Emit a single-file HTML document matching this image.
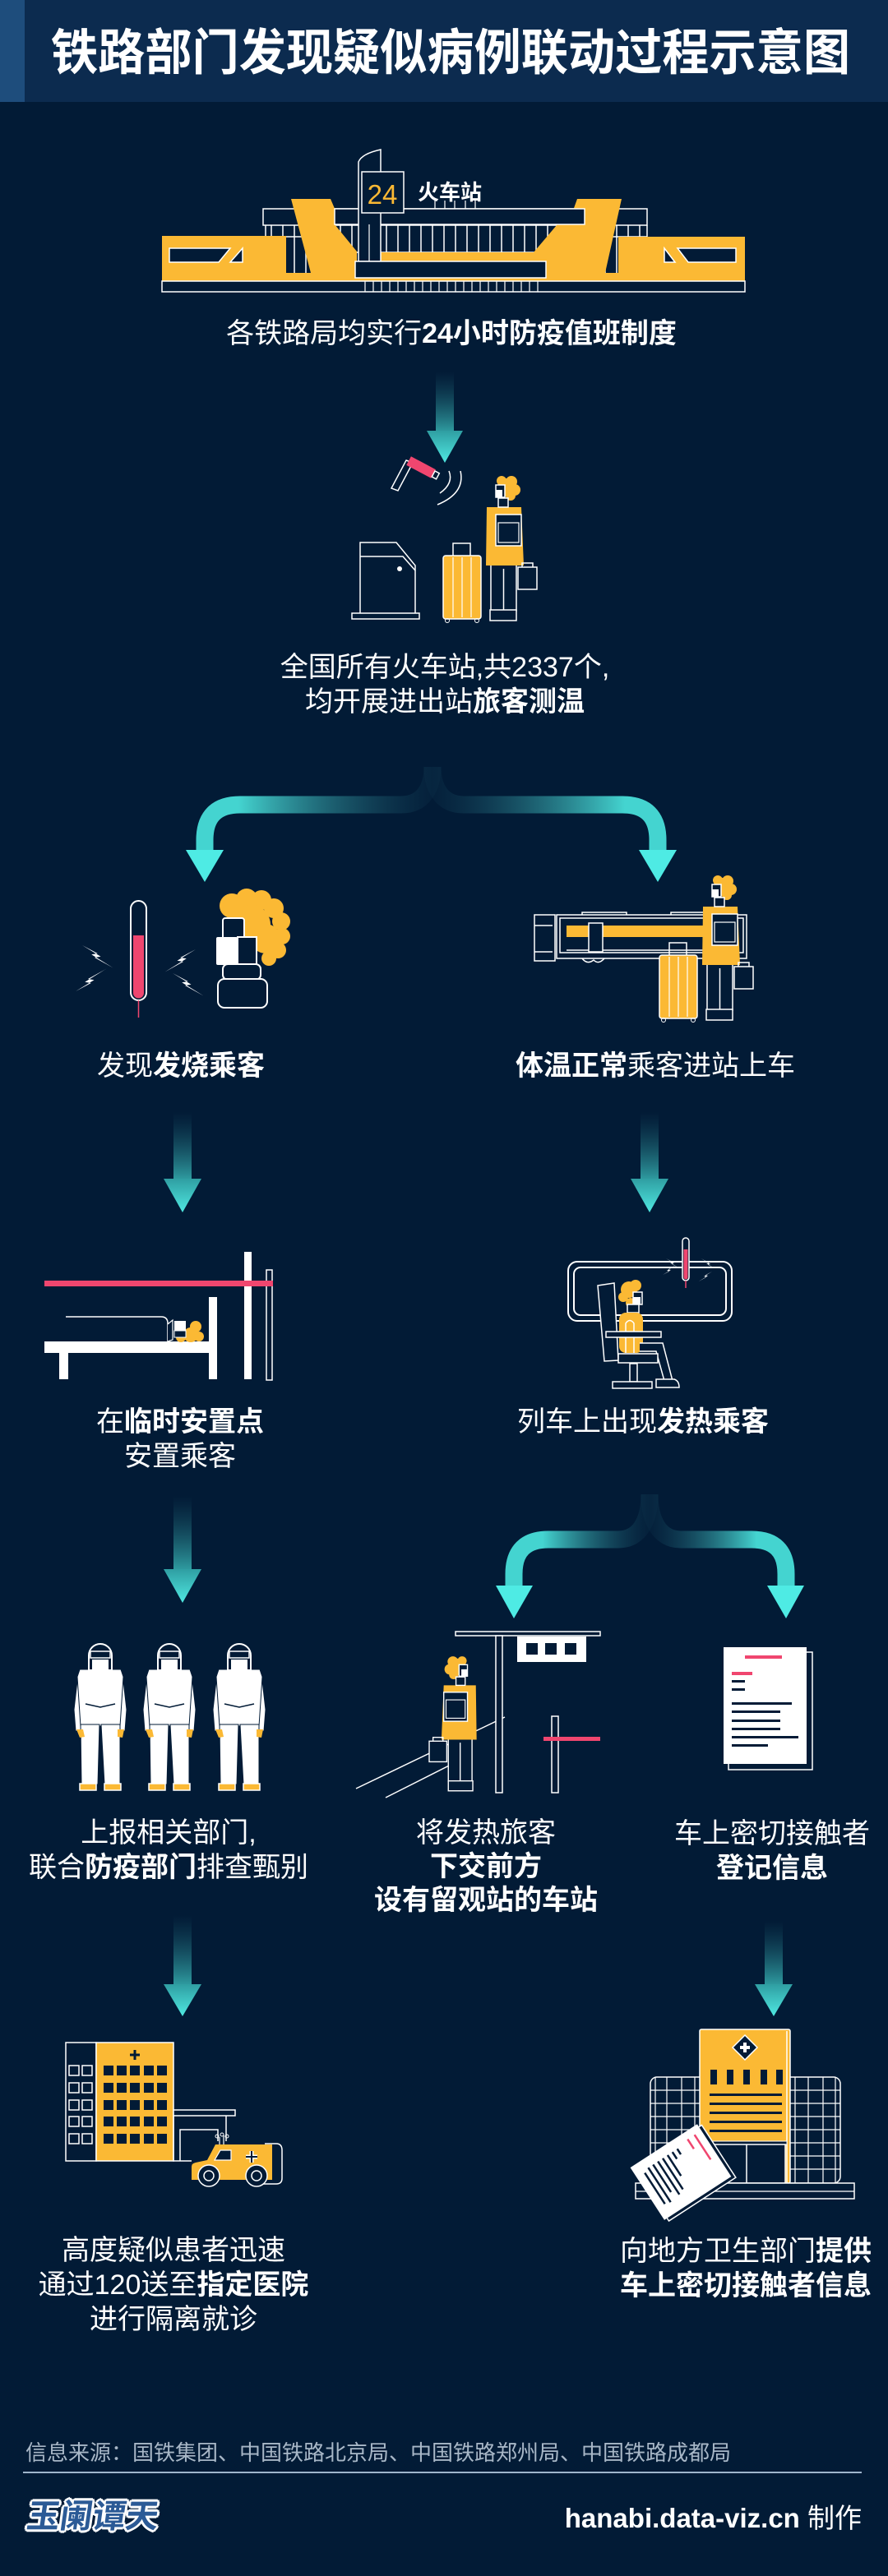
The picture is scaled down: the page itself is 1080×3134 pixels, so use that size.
<!DOCTYPE html>
<html><head><meta charset="utf-8">
<style>
html,body{margin:0;padding:0;background:#021b36;}
#wrap{position:relative;width:1080px;height:3134px;overflow:hidden;background:#021b36;font-family:"Liberation Sans","Noto Sans CJK SC",sans-serif;color:#fff;}
.t{position:absolute;width:600px;text-align:center;font-size:34px;line-height:42px;white-space:nowrap;font-weight:400;}
.t b{font-weight:700;}
svg{position:absolute;left:0;top:0;}
</style></head><body><div id="wrap">
<svg width="1080" height="3134" viewBox="0 0 1080 3134">
<defs>
<linearGradient id="gv" x1="0" y1="0" x2="0" y2="1"><stop offset="0" stop-color="#1b5a6c" stop-opacity="0"/><stop offset="1" stop-color="#2f9ea2"/></linearGradient>
<linearGradient id="gh" x1="0" y1="0" x2="0" y2="1"><stop offset="0" stop-color="#2f9ea2"/><stop offset="1" stop-color="#4fe8e1"/></linearGradient>
<linearGradient id="b1l" gradientUnits="userSpaceOnUse" x1="526" y1="0" x2="290" y2="0"><stop offset="0" stop-color="#1b4f66" stop-opacity="0.1"/><stop offset="1" stop-color="#44d4d0"/></linearGradient>
<linearGradient id="b1r" gradientUnits="userSpaceOnUse" x1="526" y1="0" x2="760" y2="0"><stop offset="0" stop-color="#1b4f66" stop-opacity="0.1"/><stop offset="1" stop-color="#44d4d0"/></linearGradient>
<linearGradient id="b2l" gradientUnits="userSpaceOnUse" x1="790" y1="0" x2="660" y2="0"><stop offset="0" stop-color="#1b4f66" stop-opacity="0.1"/><stop offset="1" stop-color="#44d4d0"/></linearGradient>
<linearGradient id="b2r" gradientUnits="userSpaceOnUse" x1="790" y1="0" x2="920" y2="0"><stop offset="0" stop-color="#1b4f66" stop-opacity="0.1"/><stop offset="1" stop-color="#44d4d0"/></linearGradient>
<path id="bolt" d="M0 0 L18 11 L12 12 L30 22 L9 9 L15 8 Z"/>
</defs>

<!-- title bar -->
<rect x="0" y="0" width="1080" height="124" fill="#0c2b4f"/>
<rect x="0" y="0" width="30" height="124" fill="#1e4d7c"/>
<text x="62" y="85" font-size="60" font-weight="700" fill="#fff" textLength="972" lengthAdjust="spacingAndGlyphs" font-family="Liberation Sans, Noto Sans CJK SC, sans-serif">铁路部门发现疑似病例联动过程示意图</text>

<!-- ================= STATION ================= -->
<g>
<path stroke="#fff" stroke-width="1.5" fill="none" d="M330 274V333M344 274V333M358 274V333M372 274V333M386 274V307M400 274V307M414 274V307M428 274V307M442 274V307M456 274V307M470 274V307M484 274V307M498 274V307M512 274V307M526 274V307M540 274V307M554 274V307M568 274V307M582 274V307M596 274V307M610 274V307M624 274V307M638 274V307M652 274V307M666 274V307M680 274V307M694 274V307M708 274V307M722 274V333M736 274V333M750 274V333M764 274V333M778 274V333M320 288H378M722 288H787M429 307H677M787 274V288M323 274V288"/>
<rect x="320" y="254" width="467" height="20" fill="#021b36" stroke="#fff" stroke-width="1.5"/>
<g fill="#fbb934">
<rect x="197" y="287" width="151" height="55"/>
<rect x="752" y="288" width="154" height="54"/>
<rect x="197" y="332" width="709" height="10"/>
<polygon points="354,242 402,242 408,256 407,273 434,306 434,332 378,332"/>
<polygon points="702,242 756,242 736,332 664,332 664,318 649,307 677,274 697,256"/>
<rect x="463" y="307" width="204" height="11"/>
</g>
<rect x="407" y="254" width="304" height="19" fill="#021b36" stroke="#fff" stroke-width="1.5"/>
<path d="M436 318 V197 Q440 187 463 182 V318 Z" fill="#021b36" stroke="#fff" stroke-width="1.5"/>
<path d="M449 273V318" stroke="#fff" stroke-width="1.2"/>
<rect x="440" y="209" width="51" height="50" fill="#021b36" stroke="#fff" stroke-width="1.5"/>
<text x="465" y="248" text-anchor="middle" font-size="33" fill="#fbb934" font-family="Liberation Sans, sans-serif">24</text>
<text x="508" y="243" font-size="26" font-weight="700" fill="#fff" font-family="Liberation Sans, Noto Sans CJK SC, sans-serif">火车站</text>
<path stroke="#fff" stroke-width="1.2" d="M529 244V254M541 244V254M553 244V254M566 244V254M578 244V254"/>
<rect x="432" y="318" width="232" height="20" fill="#021b36" stroke="#fff" stroke-width="1.5"/>
<rect x="197" y="342" width="709" height="13" fill="#021b36" stroke="#fff" stroke-width="1.5"/>
<path stroke="#fff" stroke-width="1.2" d="M444 342V355M454 342V355M464 342V355M474 342V355M484 342V355M494 342V355M504 342V355M514 342V355M524 342V355M534 342V355M544 342V355M554 342V355M564 342V355M574 342V355M584 342V355M594 342V355M604 342V355M614 342V355M624 342V355M634 342V355M644 342V355M654 342V355"/>
<g fill="#021b36" stroke="#fff" stroke-width="1.5">
<polygon points="206,302 280,302 266,319 206,319"/>
<polygon points="280,319 295,302 295,319"/>
<polygon points="824,302 895,302 895,319 837,319"/>
<polygon points="808,302 808,319 821,319"/>
</g>
</g>

<!-- arrow 1 -->
<rect x="530" y="452" width="22" height="74" fill="url(#gv)"/>
<polygon points="519,524 563,524 541,563" fill="url(#gh)"/>

<!-- ================= MEASUREMENT ================= -->
<g>
<polygon points="494,560 502,563 484,597 476,594" fill="#021b36" stroke="#fff" stroke-width="1.5"/>
<g transform="translate(513 569) rotate(28)">
<rect x="-18" y="-6" width="34" height="12" fill="#f0466f"/>
<rect x="16" y="-4" width="6" height="8" fill="#021b36" stroke="#fff" stroke-width="1.5"/>
</g>
<path d="M546 573 Q552 588 535 600" fill="none" stroke="#fff" stroke-width="1.5"/>
<path d="M560 573 Q566 600 532 614" fill="none" stroke="#fff" stroke-width="1.5"/>
<path d="M438 747 V660 H482 L505 688 V747" fill="#021b36" stroke="#fff" stroke-width="1.5"/>
<path d="M438 677 H490 L505 694" fill="none" stroke="#fff" stroke-width="1.5"/>
<circle cx="486" cy="692" r="3" fill="#fff"/>
<rect x="428" y="746" width="82" height="7" fill="#021b36" stroke="#fff" stroke-width="1.5"/>
</g>
<g id="sc">
<rect x="539" y="676" width="46" height="77" rx="3" fill="#fbb934" stroke="#fff" stroke-width="1.5"/>
<path d="M551 678V751M562 678V751M573 678V751" stroke="#fff" stroke-width="1.2"/>
<path d="M551 676V661H572V676" fill="none" stroke="#fff" stroke-width="1.5"/>
<circle cx="544" cy="755" r="2.5" fill="none" stroke="#fff"/><circle cx="580" cy="755" r="2.5" fill="none" stroke="#fff"/>
</g>
<g id="pp">
<rect x="597" y="686" width="31" height="57" fill="#021b36" stroke="#fff" stroke-width="1.5"/>
<path d="M612.5 692V743" stroke="#fff" stroke-width="1.5"/>
<rect x="596" y="742" width="32" height="13" fill="#021b36" stroke="#fff" stroke-width="1.5"/>
<path d="M592 617H634L637 688H591Z" fill="#fbb934"/>
<rect x="603" y="626" width="31" height="38" fill="#021b36" stroke="#fff" stroke-width="1.5"/>
<rect x="606" y="636" width="25" height="24" fill="none" stroke="#fff" stroke-width="1.2"/>
<rect x="630" y="690" width="23" height="27" fill="#021b36" stroke="#fff" stroke-width="1.5"/>
<path d="M635 690V685H648V690" fill="none" stroke="#fff" stroke-width="1.5"/>
<g fill="#fbb934"><circle cx="616" cy="593" r="11"/><circle cx="622" cy="586" r="7"/><circle cx="626" cy="596" r="7"/><circle cx="610" cy="585" r="6"/><circle cx="621" cy="603" r="6"/></g>
<rect x="606" y="606" width="12" height="11" fill="#021b36" stroke="#fff" stroke-width="1.5"/>
<rect x="603" y="590" width="11" height="15" fill="#021b36" stroke="#fff" stroke-width="1.5"/>
<rect x="603" y="596" width="8" height="9" fill="#fff"/>
</g>

<!-- branch 1 -->
<path d="M526 933 C526 958 515 979 488 979 L292 979 Q249 979 249 1022 L249 1036" fill="none" stroke="url(#b1l)" stroke-width="21"/>
<path d="M526 933 C526 958 537 979 564 979 L757 979 Q800 979 800 1022 L800 1036" fill="none" stroke="url(#b1r)" stroke-width="21"/>
<polygon points="226,1034 272,1034 249,1073" fill="#4eebe4"/>
<polygon points="777,1034 823,1034 800,1073" fill="#4eebe4"/>

<!-- ================= FEVER (left) ================= -->
<g>
<rect x="159" y="1096" width="19" height="121" rx="9.5" fill="#021b36" stroke="#fff" stroke-width="2"/>
<path d="M162 1138 H175 V1208 A6.5 6.5 0 0 1 162 1208 Z" fill="#f0466f"/>
<path d="M168.5 1217 V1238" stroke="#f0466f" stroke-width="1.5"/>
<g fill="#fff">
<use href="#bolt" transform="translate(100 1150) scale(1.25)"/>
<use href="#bolt" transform="matrix(1.25 0 0 -1.25 92 1206)"/>
<use href="#bolt" transform="matrix(-1.25 0 0 1.25 238 1155) scale(1 1)"/>
<use href="#bolt" transform="translate(210 1184) scale(1.25)"/>
</g>
<g fill="#fbb934">
<circle cx="282" cy="1102" r="15"/><circle cx="300" cy="1094" r="13"/><circle cx="318" cy="1095" r="12"/><circle cx="333" cy="1105" r="12"/><circle cx="342" cy="1121" r="11"/><circle cx="343" cy="1139" r="10"/><circle cx="338" cy="1156" r="10"/><circle cx="327" cy="1166" r="9"/><circle cx="305" cy="1125" r="24"/><circle cx="323" cy="1142" r="18"/>
</g>
<rect x="271" y="1117" width="26" height="26" rx="3" fill="#021b36" stroke="#fff" stroke-width="2"/>
<rect x="289" y="1140" width="23" height="33" fill="#021b36" stroke="#fff" stroke-width="2"/>
<rect x="263" y="1140" width="26" height="34" rx="2" fill="#fff"/>
<rect x="271" y="1173" width="46" height="19" rx="6" fill="#021b36" stroke="#fff" stroke-width="2"/>
<rect x="265" y="1191" width="60" height="35" rx="8" fill="#021b36" stroke="#fff" stroke-width="2"/>
</g>

<!-- ================= TRAIN (right) ================= -->
<g fill="none" stroke="#fff" stroke-width="1.5">
<rect x="650" y="1113" width="25" height="56"/>
<path d="M650 1126 H672 M650 1158 H672"/>
<rect x="677" y="1113" width="231" height="53"/>
<rect x="681" y="1117" width="223" height="42"/>
<path d="M708 1113 V1110 H762 V1113 M816 1113 V1110 H868 V1113"/>
<path d="M689 1156 H860"/>
<path d="M708 1166 Q714 1174 722 1168 Q728 1174 735 1166"/>
</g>
<rect x="689" y="1126" width="171" height="14" fill="#fbb934"/>
<rect x="716" y="1123" width="17" height="35" fill="#021b36" stroke="#fff" stroke-width="1.5"/>
<use href="#sc" transform="translate(263 486)"/>
<use href="#pp" transform="translate(263 486)"/>

<!-- vertical arrows 2,3 -->
<rect x="211" y="1353" width="22" height="83" fill="url(#gv)"/>
<polygon points="199,1434 245,1434 222,1475" fill="url(#gh)"/>
<rect x="779" y="1353" width="22" height="83" fill="url(#gv)"/>
<polygon points="767,1434 813,1434 790,1475" fill="url(#gh)"/>

<!-- ================= BED ================= -->
<g>
<rect x="297" y="1523" width="9" height="155" fill="#fff"/>
<rect x="324" y="1545" width="7" height="134" fill="#021b36" stroke="#fff" stroke-width="1.5"/>
<rect x="54" y="1558" width="278" height="7" fill="#f0466f"/>
<rect x="54" y="1632" width="210" height="14" fill="#fff"/>
<rect x="72" y="1646" width="11" height="32" fill="#fff"/>
<rect x="254" y="1578" width="10" height="100" fill="#fff"/>
<path d="M80 1602 H196 Q204 1602 204 1610 V1632" fill="none" stroke="#fff" stroke-width="1.5"/>
<path d="M204 1611 L210 1606 V1630 L204 1632" fill="#021b36" stroke="#fff" stroke-width="1.2"/>
<g fill="#fbb934"><circle cx="238" cy="1614" r="7"/><circle cx="232" cy="1624" r="9"/><circle cx="242" cy="1626" r="6"/><circle cx="220" cy="1627" r="6"/></g>
<rect x="212" y="1607" width="14" height="12" fill="#fff"/>
<rect x="212" y="1619" width="14" height="8" fill="#021b36" stroke="#fff" stroke-width="1"/>
</g>

<!-- ================= SEAT (right) ================= -->
<g>
<rect x="691" y="1535" width="199" height="72" rx="11" fill="none" stroke="#fff" stroke-width="2"/>
<rect x="698" y="1542" width="185" height="58" rx="8" fill="none" stroke="#fff" stroke-width="2"/>
<rect x="830" y="1506" width="8" height="52" rx="4" fill="#021b36" stroke="#fff" stroke-width="1.5"/>
<path d="M831.5 1520 H836.5 V1554 A2.5 2.5 0 0 1 831.5 1554 Z" fill="#f0466f"/>
<path d="M834 1558 V1567" stroke="#f0466f" stroke-width="1.5"/>
<g fill="#fff">
<use href="#bolt" transform="matrix(0.55 0 0 0.55 810 1531)"/>
<use href="#bolt" transform="matrix(0.55 0 0 -0.55 806 1551)"/>
<use href="#bolt" transform="matrix(-0.55 0 0 -0.55 869 1543)"/>
<use href="#bolt" transform="matrix(-0.55 0 0 0.55 866 1547)"/>
</g>
<polygon points="727,1564 747,1561 752,1655 735,1656" fill="#021b36" stroke="#fff" stroke-width="1.5"/>
<g fill="#fbb934"><circle cx="765" cy="1569" r="10"/><circle cx="773" cy="1564" r="7"/><circle cx="758" cy="1578" r="6"/><circle cx="767" cy="1585" r="6"/></g>
<rect x="770" y="1572" width="11" height="15" fill="#021b36" stroke="#fff" stroke-width="1.5"/>
<rect x="770" y="1578" width="9" height="9" fill="#fff"/>
<rect x="763" y="1587" width="14" height="10" fill="#021b36" stroke="#fff" stroke-width="1.5"/>
<rect x="753" y="1597" width="29" height="49" rx="8" fill="#fbb934"/>
<path d="M761 1646 V1610 Q766 1603 771 1610 V1646" fill="none" stroke="#fff" stroke-width="1.5"/>
<rect x="737" y="1620" width="67" height="7" fill="#021b36" stroke="#fff" stroke-width="1.5"/>
<path d="M778 1634 H806 L818 1680 H808 L798 1644 H778" fill="#021b36" stroke="#fff" stroke-width="1.5"/>
<rect x="752" y="1647" width="48" height="11" fill="#021b36" stroke="#fff" stroke-width="1.5"/>
<rect x="766" y="1659" width="9" height="22" fill="#021b36" stroke="#fff" stroke-width="1.5"/>
<rect x="745" y="1681" width="48" height="8" fill="#021b36" stroke="#fff" stroke-width="1.5"/>
<path d="M798 1678 H820 Q826 1680 826 1688 H798 Z" fill="#021b36" stroke="#fff" stroke-width="1.5"/>
</g>

<!-- arrow 4 -->
<rect x="211" y="1820" width="22" height="91" fill="url(#gv)"/>
<polygon points="199,1909 245,1909 222,1950" fill="url(#gh)"/>

<!-- branch 2 -->
<path d="M790 1818 C790 1848 779 1873 752 1873 L667 1873 Q625 1873 625 1915 L625 1931" fill="none" stroke="url(#b2l)" stroke-width="21"/>
<path d="M790 1818 C790 1848 801 1873 828 1873 L914 1873 Q956 1873 956 1915 L956 1931" fill="none" stroke="url(#b2r)" stroke-width="21"/>
<polygon points="603,1929 648,1929 625,1969" fill="#4eebe4"/>
<polygon points="933,1929 978,1929 956,1969" fill="#4eebe4"/>

<!-- ================= DOCTORS ================= -->
<g id="doc">
<path d="M95 2036 L90 2080 L92 2106 L101 2106 L102 2050 Z" fill="#fff" stroke="#021b36" stroke-width="1"/>
<path d="M149 2036 L154 2080 L152 2106 L143 2106 L142 2050 Z" fill="#fff" stroke="#021b36" stroke-width="1"/>
<path d="M97 2031 H147 L150 2040 L146 2100 H98 L94 2040 Z" fill="#fff" stroke="#021b36" stroke-width="1"/>
<path d="M98 2098 H121 L119 2171 H99 Z" fill="#fff" stroke="#021b36" stroke-width="1"/>
<path d="M123 2098 H146 L146 2171 H127 Z" fill="#fff" stroke="#021b36" stroke-width="1"/>
<path d="M104 2073 L122 2077 L140 2073" stroke="#021b36" stroke-width="1.5" fill="none"/>
<path d="M93 2104 L101 2104 L103 2113 L97 2114 Z" fill="#fbb934"/>
<path d="M143 2104 L151 2104 L149 2114 L143 2113 Z" fill="#fbb934"/>
<rect x="97" y="2170" width="20" height="8" fill="#fbb934" stroke="#fff" stroke-width="1.5"/>
<rect x="127" y="2170" width="20" height="8" fill="#fbb934" stroke="#fff" stroke-width="1.5"/>
<path d="M108 2032 V2014 A14 14 0 0 1 136 2014 V2032 Z" fill="#021b36" stroke="#fff" stroke-width="2"/>
<rect x="110" y="2009" width="24" height="8" fill="#021b36" stroke="#fff" stroke-width="1.5"/>
<rect x="112" y="2019" width="20" height="12" fill="#fff"/>
</g>
<use href="#doc" transform="translate(84 0)"/>
<use href="#doc" transform="translate(169 0)"/>

<!-- ================= PLATFORM ================= -->
<g>
<path d="M433 2176 L614 2089 M469 2187 L566 2138" stroke="#fff" stroke-width="1.5"/>
<rect x="554" y="1985" width="176" height="5" fill="#021b36" stroke="#fff" stroke-width="1.5"/>
<rect x="603" y="1990" width="8" height="191" fill="#021b36" stroke="#fff" stroke-width="1.5"/>
<rect x="629" y="1991" width="84" height="31" fill="#fff"/>
<rect x="640" y="1999" width="14" height="14" fill="#021b36"/>
<rect x="663" y="1999" width="14" height="14" fill="#021b36"/>
<rect x="687" y="1999" width="14" height="14" fill="#021b36"/>
<rect x="671" y="2088" width="8" height="93" fill="#021b36" stroke="#fff" stroke-width="1.5"/>
<rect x="661" y="2113" width="69" height="5" fill="#f0466f"/>
<use href="#pp" transform="matrix(-0.93 0 0 0.93 1129.3 1476.6)"/>
</g>

<!-- ================= DOCUMENT ================= -->
<g>
<rect x="886" y="2010" width="102" height="143" fill="#021b36" stroke="#fff" stroke-width="1.5"/>
<rect x="880" y="2004" width="101" height="142" fill="#fff"/>
<rect x="906" y="2014" width="45" height="4" fill="#f0466f"/>
<rect x="890" y="2034" width="25" height="4" fill="#f0466f"/>
<g fill="#021b36">
<rect x="890" y="2044" width="16" height="3"/><rect x="890" y="2054" width="16" height="3"/>
<rect x="890" y="2071" width="73" height="3"/><rect x="890" y="2081" width="59" height="3"/>
<rect x="890" y="2092" width="59" height="3"/><rect x="890" y="2102" width="59" height="3"/>
<rect x="890" y="2112" width="81" height="3"/><rect x="890" y="2122" width="44" height="3"/>
</g>
</g>

<!-- arrows 5,6 -->
<rect x="211" y="2330" width="22" height="86" fill="url(#gv)"/>
<polygon points="199,2414 245,2414 222,2453" fill="url(#gh)"/>
<rect x="930" y="2337" width="22" height="79" fill="url(#gv)"/>
<polygon points="918,2414 964,2414 941,2453" fill="url(#gh)"/>

<!-- ================= HOSPITAL LEFT ================= -->
<g>
<rect x="80" y="2485" width="37" height="144" fill="#021b36" stroke="#fff" stroke-width="1.5"/>
<g fill="none" stroke="#fff" stroke-width="1.5">
<rect x="84" y="2513" width="12" height="12"/><rect x="100" y="2513" width="12" height="12"/>
<rect x="84" y="2534" width="12" height="12"/><rect x="100" y="2534" width="12" height="12"/>
<rect x="84" y="2555" width="12" height="12"/><rect x="100" y="2555" width="12" height="12"/>
<rect x="84" y="2575" width="12" height="12"/><rect x="100" y="2575" width="12" height="12"/>
<rect x="84" y="2596" width="12" height="12"/><rect x="100" y="2596" width="12" height="12"/>
</g>
<rect x="117" y="2485" width="94" height="144" fill="#fbb934" stroke="#fff" stroke-width="1.5"/>
<path d="M164 2494 V2506 M158 2500 H170" stroke="#021b36" stroke-width="3"/>
<g fill="#021b36">
<rect x="126" y="2513" width="12" height="12"/><rect x="142" y="2513" width="12" height="12"/><rect x="158" y="2513" width="12" height="12"/><rect x="175" y="2513" width="12" height="12"/><rect x="191" y="2513" width="12" height="12"/>
<rect x="126" y="2534" width="12" height="12"/><rect x="142" y="2534" width="12" height="12"/><rect x="158" y="2534" width="12" height="12"/><rect x="175" y="2534" width="12" height="12"/><rect x="191" y="2534" width="12" height="12"/>
<rect x="126" y="2555" width="12" height="12"/><rect x="142" y="2555" width="12" height="12"/><rect x="158" y="2555" width="12" height="12"/><rect x="175" y="2555" width="12" height="12"/><rect x="191" y="2555" width="12" height="12"/>
<rect x="126" y="2575" width="12" height="12"/><rect x="142" y="2575" width="12" height="12"/><rect x="158" y="2575" width="12" height="12"/><rect x="175" y="2575" width="12" height="12"/><rect x="191" y="2575" width="12" height="12"/>
<rect x="126" y="2596" width="12" height="12"/><rect x="142" y="2596" width="12" height="12"/><rect x="158" y="2596" width="12" height="12"/><rect x="175" y="2596" width="12" height="12"/><rect x="191" y="2596" width="12" height="12"/>
</g>
<rect x="211" y="2567" width="75" height="7" fill="#021b36" stroke="#fff" stroke-width="1.5"/>
<path d="M211 2574 V2629 H233 M275 2574 V2605" fill="none" stroke="#fff" stroke-width="1.5"/>
<path d="M219 2629 V2591 H265 V2605" fill="none" stroke="#fff" stroke-width="1.5"/>
<!-- ambulance -->
<path d="M322 2608 H336 Q343 2608 343 2616 V2650 Q343 2657 336 2657 H318" fill="#021b36" stroke="#fff" stroke-width="1.5"/>
<path d="M233 2652 V2636 Q233 2632 238 2631 L252 2628 L262 2609 H331 V2652 Z" fill="#fbb934"/>
<path d="M261 2628 L268 2616 H281 V2628 Z" fill="#021b36" stroke="#fff" stroke-width="1.2"/>
<path d="M306 2617 V2631 M299 2624 H313" stroke="#fff" stroke-width="5"/>
<path d="M306 2617 V2631 M299 2624 H313" stroke="#021b36" stroke-width="2"/>
<path d="M267 2609 V2600 M272 2609 V2598" stroke="#fff" stroke-width="1.2"/>
<circle cx="264" cy="2599" r="2" fill="none" stroke="#fff"/><circle cx="270" cy="2597" r="2" fill="none" stroke="#fff"/><circle cx="276" cy="2599" r="2" fill="none" stroke="#fff"/>
<circle cx="254" cy="2647" r="13" fill="#021b36" stroke="#fff" stroke-width="1.5"/>
<circle cx="254" cy="2647" r="6" fill="none" stroke="#fff" stroke-width="1.5"/>
<circle cx="312" cy="2647" r="13" fill="#021b36" stroke="#fff" stroke-width="1.5"/>
<circle cx="312" cy="2647" r="6" fill="none" stroke="#fff" stroke-width="1.5"/>
</g>

<!-- ================= HOSPITAL RIGHT ================= -->
<g>
<rect x="791" y="2527" width="231" height="129" rx="8" fill="#021b36" stroke="#fff" stroke-width="1.5"/>
<path stroke="#fff" stroke-width="1.2" fill="none" d="M797 2527V2656M811 2527V2656M829 2527V2656M845 2527V2656M967 2527V2656M983 2527V2656M1001 2527V2656M1016 2527V2656M791 2543H851M791 2559H851M791 2575H851M791 2591H851M791 2607H851M791 2623H851M791 2639H851M961 2543H1022M961 2559H1022M961 2575H1022M961 2591H1022M961 2607H1022M961 2623H1022M961 2639H1022"/>
<rect x="851" y="2469" width="110" height="187" rx="2" fill="#fbb934" stroke="#fff" stroke-width="1.5"/>
<path d="M957 2471 V2656" stroke="#fff" stroke-width="1.5"/>
<polygon points="906,2476 921,2491 906,2506 891,2491" fill="#021b36" stroke="#fff" stroke-width="1.5"/>
<path d="M906 2485 V2497 M900 2491 H912" stroke="#fff" stroke-width="4"/>
<g fill="#021b36">
<rect x="864" y="2518" width="8" height="18"/><rect x="884" y="2518" width="8" height="18"/><rect x="904" y="2518" width="8" height="18"/><rect x="925" y="2518" width="8" height="18"/><rect x="944" y="2518" width="8" height="18"/>
<rect x="863" y="2547" width="88" height="3"/><rect x="863" y="2558" width="88" height="3"/><rect x="863" y="2569" width="88" height="3"/><rect x="863" y="2580" width="88" height="3"/><rect x="863" y="2591" width="88" height="3"/>
</g>
<rect x="855" y="2605" width="102" height="4" fill="#021b36" stroke="#fff" stroke-width="1"/>
<rect x="857" y="2609" width="98" height="47" fill="#021b36" stroke="#fff" stroke-width="1.5"/>
<path d="M908 2609 V2656" stroke="#fff" stroke-width="1.5"/>
<rect x="773" y="2656" width="266" height="19" fill="#021b36" stroke="#fff" stroke-width="1.5"/>
<path d="M773 2666 H1039" stroke="#fff" stroke-width="1.2"/>
<g transform="translate(827 2642) rotate(-33)">
<rect x="-44" y="-33" width="97" height="76" fill="#021b36" stroke="#fff" stroke-width="1.5"/>
<rect x="-48" y="-37" width="97" height="76" fill="#fff"/>
<g fill="#021b36">
<rect x="-38" y="-22" width="2.5" height="45"/><rect x="-31" y="-25" width="2.5" height="50"/><rect x="-24" y="-25" width="2.5" height="40"/><rect x="-17" y="-25" width="2.5" height="48"/><rect x="-10" y="-25" width="2.5" height="45"/><rect x="-3" y="-25" width="2.5" height="30"/><rect x="4" y="-25" width="2.5" height="10"/><rect x="11" y="-25" width="2.5" height="8"/>
</g>
<rect x="28" y="-28" width="2.5" height="14" fill="#f0466f"/>
<rect x="38" y="-28" width="2.5" height="36" fill="#f0466f"/>
</g>
</g>

<!-- footer line -->
<rect x="28" y="3007" width="1020" height="2" fill="#9fb5cc"/>
</svg>

<!-- captions -->
<div class="t" style="left:249px;top:385px;">各铁路局均实行<b>24小时防疫值班制度</b></div>
<div class="t" style="left:241px;top:791px;">全国所有火车站,共2337个,<br>均开展进出站<b>旅客测温</b></div>
<div class="t" style="left:-80px;top:1276px;">发现<b>发烧乘客</b></div>
<div class="t" style="left:497px;top:1276px;"><b>体温正常</b>乘客进站上车</div>
<div class="t" style="left:-81px;top:1709px;">在<b>临时安置点</b><br>安置乘客</div>
<div class="t" style="left:482px;top:1709px;">列车上出现<b>发热乘客</b></div>
<div class="t" style="left:-95px;top:2209px;">上报相关部门,<br>联合<b>防疫部门</b>排查甄别</div>
<div class="t" style="left:291px;top:2210px;line-height:41px;">将发热旅客<br><b>下交前方<br>设有留观站的车站</b></div>
<div class="t" style="left:639px;top:2210px;">车上密切接触者<br><b>登记信息</b></div>
<div class="t" style="left:-89px;top:2717px;">高度疑似患者迅速<br>通过120送至<b>指定医院</b><br>进行隔离就诊</div>
<div class="t" style="left:607px;top:2718px;">向地方卫生部门<b>提供</b><br><b>车上密切接触者信息</b></div>

<!-- footer -->
<div style="position:absolute;left:31px;top:2963px;font-size:26px;line-height:42px;color:#a8b7c7;white-space:nowrap;">信息来源：国铁集团、中国铁路北京局、中国铁路郑州局、中国铁路成都局</div>
<div style="position:absolute;left:33px;top:3032px;font-size:40px;line-height:60px;font-weight:700;color:#2b5a96;white-space:nowrap;transform:skewX(-8deg);text-shadow:2px 2px 0 #fff,-2px -2px 0 #fff,2px -2px 0 #fff,-2px 2px 0 #fff,0 3px 0 #fff,3px 0 0 #fff,0 -3px 0 #fff,-3px 0 0 #fff;">玉阑谭天</div>
<div style="position:absolute;right:32px;top:3043px;font-size:33px;line-height:42px;white-space:nowrap;color:#fff;"><b>hanabi.data-viz.cn</b> 制作</div>
</div></body></html>
